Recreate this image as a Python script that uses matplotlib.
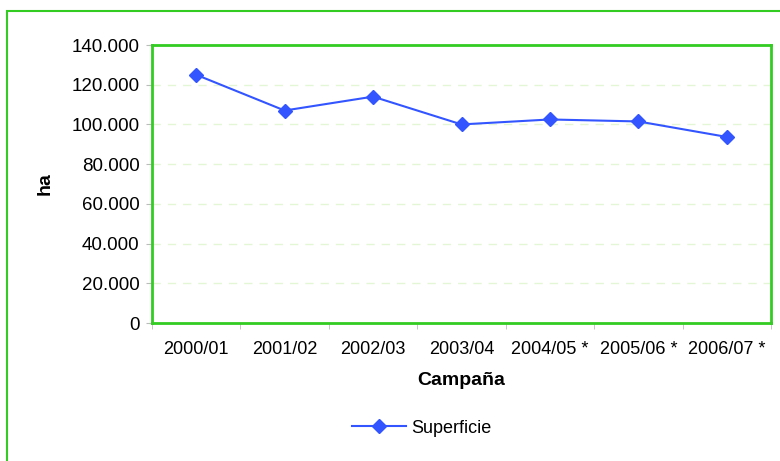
import matplotlib.pyplot as plt
from matplotlib.patches import Rectangle
from matplotlib.ticker import FuncFormatter, MultipleLocator, FixedLocator

plt.rcParams['font.family'] = ['Liberation Sans', 'DejaVu Sans']

# Data
campanas = ['2000/01', '2001/02', '2002/03', '2003/04', '2004/05 *', '2005/06 *', '2006/07 *']
superficie = [125000, 107000, 114000, 100000, 102500, 101500, 93700]

GREEN = '#33cc22'
BLUE = '#3355ff'

fig = plt.figure(figsize=(7.8, 4.61), dpi=100)
ax = fig.add_axes([152 / 780, 1 - 323 / 461, 619 / 780, 278 / 461])

# outer chart frame (runs off the right and bottom edges)
fig.patches.append(Rectangle((7 / 780, -0.05), 1.0, 1 - 11 / 461 + 0.05,
                             transform=fig.transFigure, fill=False,
                             edgecolor=GREEN, linewidth=1.5))

x = list(range(len(campanas)))
ax.plot(x, superficie, color=BLUE, marker='D', markersize=7, linewidth=1.5,
        label='Superficie')

ax.set_xlim(-0.5, len(campanas) - 0.5)
ax.set_ylim(0, 140000)
ax.yaxis.set_major_locator(MultipleLocator(20000))
ax.yaxis.set_major_formatter(FuncFormatter(lambda v, p: f'{int(v):,}'.replace(',', '.')))
ax.set_xticks(x)
ax.set_xticklabels(campanas)
ax.xaxis.set_minor_locator(FixedLocator([i - 0.5 for i in range(len(campanas) + 1)]))
ax.tick_params(axis='x', which='major', length=0, pad=13, labelsize=13)
ax.tick_params(axis='x', which='minor', length=4, color='#bbbbbb')
ax.tick_params(axis='y', length=4, color='#bbbbbb', labelsize=13.5, pad=5)

ax.grid(axis='y', color='#e3f7d6', linestyle=(0, (6, 5)), linewidth=1)
ax.set_axisbelow(True)
for s in ax.spines.values():
    s.set_color(GREEN)
    s.set_linewidth(2)

ax.set_xlabel('Campaña', fontsize=14, fontweight='bold', labelpad=10)
ax.set_ylabel('ha', fontsize=14, fontweight='bold', labelpad=13)

fig.legend(loc='center', bbox_to_anchor=(422 / 780, 1 - 428 / 461), frameon=False,
           fontsize=13, handlelength=3, handletextpad=0.3)

fig.savefig('out.png', dpi=100)
